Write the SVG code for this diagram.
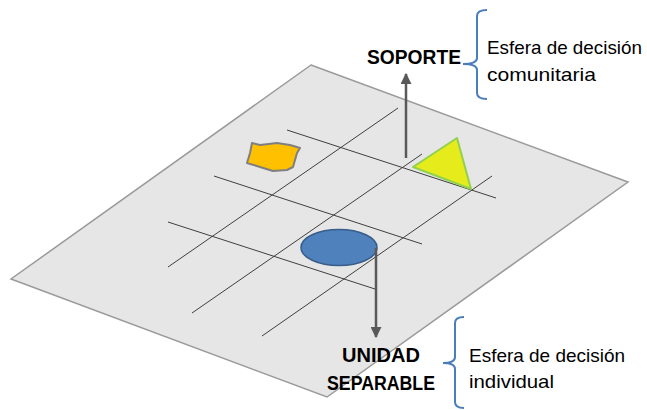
<svg xmlns="http://www.w3.org/2000/svg" width="647" height="410" viewBox="0 0 647 410">
<defs>
<style>
.grid{stroke:#3f3f3f;stroke-width:1;fill:none}
.arrow{stroke:#595959;stroke-width:2.5;fill:none}
.brace{stroke:#4a7ebb;stroke-width:2;fill:none}
.lbl{font-family:"Liberation Sans",Arial,sans-serif;font-weight:bold;font-size:21px;fill:#000}
.desc{font-family:"Liberation Sans",Arial,sans-serif;font-size:19px;fill:#000}
</style>
<marker id="ah" viewBox="0 0 10 10" refX="9" refY="5" markerWidth="4.4" markerHeight="4.4" orient="auto">
<path d="M0,0 L10,5 L0,10 z" fill="#595959"/>
</marker>
</defs>
<rect width="647" height="410" fill="#ffffff"/>
<g id="plane">
<polygon points="311,65 628,182 327,397 11,279" fill="#e6e6e6" stroke="#9a9a9a" stroke-width="1.5"/>
</g>
<g id="grid">
<line class="grid" x1="287" y1="130" x2="496" y2="198"/>
<line class="grid" x1="214" y1="176" x2="422" y2="244"/>
<line class="grid" x1="168" y1="222" x2="375" y2="289"/>
<line class="grid" x1="168" y1="267" x2="398" y2="108"/>
<line class="grid" x1="192" y1="313" x2="422" y2="154"/>
<line class="grid" x1="262" y1="336" x2="492" y2="176"/>
</g>
<g id="blob">
<polygon points="252,143 260,145 277,143 290,145 300,148 297,153 293,167 287,170 273,171 260,167 247,163 250,153" fill="#ffc000" stroke="#7f7f7f" stroke-width="2" stroke-linejoin="round"/>
</g>
<g id="triangle">
<polygon points="457,138 413,167 471,189" fill="#e6ec1c" stroke="#92d050" stroke-width="2" stroke-linejoin="round"/>
</g>
<g id="ellipse">
<ellipse cx="339" cy="247.5" rx="38" ry="18" fill="#4f81bd" stroke="#385d8a" stroke-width="1.5"/>
</g>
<g id="connectors">
<line class="arrow" x1="406" y1="158" x2="406" y2="74" marker-end="url(#ah)"/>
<line class="arrow" x1="376" y1="248" x2="376" y2="337" marker-end="url(#ah)"/>
</g>
<g id="soporte">
<text class="lbl" x="367" y="64" textLength="94" lengthAdjust="spacingAndGlyphs">SOPORTE</text>
<path class="brace" d="M487,10 Q477,10 477,16 L477,58 Q477,64 463,64 Q477,64 477,70 L477,93 Q477,99 487,99"/>
<text class="desc" x="487" y="54" textLength="155" lengthAdjust="spacingAndGlyphs">Esfera de decisión</text>
<text class="desc" x="487" y="81" textLength="109" lengthAdjust="spacingAndGlyphs">comunitaria</text>
</g>
<g id="unidad">
<text class="lbl" x="342" y="362" textLength="78" lengthAdjust="spacingAndGlyphs">UNIDAD</text>
<text class="lbl" x="327" y="390" textLength="108" lengthAdjust="spacingAndGlyphs">SEPARABLE</text>
<path class="brace" d="M464,317 Q455,317 455,323 L455,357 Q455,363 443,363 Q455,363 455,369 L455,402 Q455,408 464,408"/>
<text class="desc" x="469" y="362" textLength="156" lengthAdjust="spacingAndGlyphs">Esfera de decisión</text>
<text class="desc" x="469" y="388" textLength="85" lengthAdjust="spacingAndGlyphs">individual</text>
</g>
</svg>
